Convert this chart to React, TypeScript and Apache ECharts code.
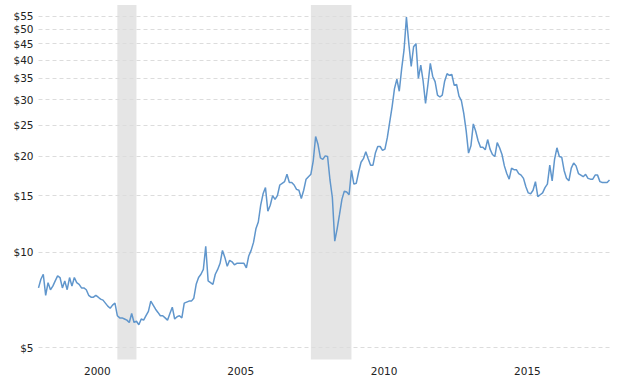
import React, { useEffect, useRef } from "react";
import * as echarts from "echarts";

// Monthly series starting June 1998
const startYear = 1998;
const startMonth = 6; // June

const prices: number[] = [
  7.7, 8.2, 8.5, 7.3, 8.0, 7.6, 7.8, 8.1, 8.4, 8.3, 7.7, 8.1,
  7.6, 8.3, 7.8, 8.3, 8.0, 7.9, 7.7, 7.7, 7.6, 7.3, 7.2, 7.2,
  7.3, 7.2, 7.1, 7.05, 6.9, 6.75, 6.65, 6.8, 6.9, 6.3, 6.2, 6.2,
  6.15, 6.1, 6.0, 6.4, 6.0, 6.05, 5.9, 6.15, 6.1, 6.3, 6.5, 7.0,
  6.8, 6.6, 6.45, 6.3, 6.3, 6.2, 6.1, 6.4, 6.7, 6.15, 6.25, 6.3,
  6.2, 6.9, 6.95, 7.0, 7.0, 7.15, 7.9, 8.3, 8.5, 8.8, 10.4, 8.1,
  8.0, 7.9, 8.5, 8.8, 9.2, 10.1, 9.6, 9.0, 9.4, 9.3, 9.1, 9.2,
  9.2, 9.2, 9.2, 8.9, 9.7, 10.1, 10.7, 11.8, 12.4, 14.0, 15.2, 15.9,
  13.4, 14.0, 15.0, 14.6, 15.0, 16.2, 16.4, 16.6, 17.5, 16.5, 16.5, 16.2,
  15.7, 15.6, 14.7, 15.6, 16.9, 17.2, 17.5, 19.3, 23.0, 21.7, 19.7, 19.5,
  20.0, 19.9, 16.8, 14.8, 10.8, 11.8, 13.1, 14.6, 15.5, 15.4, 15.1, 18.0,
  16.3, 16.4, 17.8, 19.1, 19.6, 20.6, 19.6, 18.7, 18.7, 20.4, 21.4, 21.4,
  20.8, 21.0, 22.8, 25.5, 28.5, 32.5, 34.8, 31.9, 37.5, 43.0, 54.5, 45.0,
  38.2, 44.0, 45.0, 35.0, 38.5, 34.3, 29.2, 33.5, 39.0, 35.5, 34.2, 31.0,
  30.6, 31.0, 34.3, 36.2, 35.8, 36.0, 33.3, 33.5, 30.8, 29.8, 27.2, 24.0,
  20.4, 21.5, 25.2, 23.9, 22.3, 21.3, 21.3, 20.9, 22.5, 21.0, 20.2, 19.9,
  22.0, 21.2, 20.2, 18.6, 17.6, 16.9, 18.3, 18.1, 18.1, 17.6, 17.4, 17.0,
  16.0, 15.3, 15.2, 15.6, 16.6, 14.9, 15.1, 15.3, 15.9, 16.3, 18.7, 16.7,
  19.5, 21.2, 19.9, 19.8, 18.0, 17.0, 16.7, 18.3, 19.0, 18.6, 17.6, 17.4,
  17.2, 17.5, 17.0, 16.9, 16.9, 17.4, 17.4, 16.6, 16.5, 16.5, 16.5, 16.8,
];

const yTickValues = [5, 10, 15, 20, 25, 30, 35, 40, 45, 50, 55];
const xTickYears = [2000, 2005, 2010, 2015];

// Recessions [start year, start month, end year, end month]
const recessions: [number, number, number, number][] = [
  [2001, 3, 2001, 11],
  [2007, 12, 2009, 5],
];

const toT = (y: number, m: number) => y + (m - 1) / 12;

export default function App() {
  const ref = useRef<HTMLDivElement>(null);

  useEffect(() => {
    if (!ref.current) return;
    const chart = echarts.init(ref.current, undefined, { renderer: "svg" });
    const t0 = toT(startYear, startMonth);
    const data = prices.map((v, i) => [t0 + i / 12, v]);
    const tEnd = t0 + (prices.length - 1) / 12;
    const font = "'DejaVu Sans', Verdana, sans-serif";

    chart.setOption({
      animation: false,
      backgroundColor: "#ffffff",
      grid: { left: 38.5, right: 30.5, top: 5, bottom: 19.5, containLabel: false },
      xAxis: {
        type: "value",
        min: t0,
        max: tEnd,
        axisLine: { show: false },
        axisTick: { show: false },
        splitLine: { show: false },
        axisLabel: {
          customValues: xTickYears.map((y) => y + 0.47),
          formatter: (v: number) => String(Math.floor(v)),
          color: "#222",
          fontSize: 10.5,
          fontFamily: font,
          margin: 6,
        },
      },
      yAxis: {
        type: "log",
        logBase: 10,
        min: 4.59,
        max: 59.5,
        axisLine: { show: false },
        axisTick: { show: false },
        axisLabel: { show: false },
        splitLine: { show: false },
      },
      series: [
        {
          type: "line",
          data,
          showSymbol: false,
          symbol: "none",
          z: 3,
          lineStyle: { color: "#6096cc", width: 1.5 },
          markArea: {
            silent: true,
            z: 0,
            itemStyle: { color: "#e5e5e5" },
            data: recessions.map(([y1, m1, y2, m2]) => [
              { xAxis: toT(y1, m1) },
              { xAxis: toT(y2, m2) },
            ]),
          },
          markLine: {
            silent: true,
            z: 1,
            symbol: ["none", "none"],
            lineStyle: { color: "#dcdcdc", type: [4, 3], width: 1 },
            label: {
              show: true,
              position: "start",
              distance: 5,
              color: "#222",
              fontSize: 10.5,
              fontFamily: font,
              formatter: (p: any) => "$" + p.value,
            },
            data: yTickValues.map((v) => ({ yAxis: v })),
          },
        },
      ],
    });
    return () => chart.dispose();
  }, []);

  return (
    <div
      ref={ref}
      style={{ position: "fixed", left: 0, top: 0, width: 640, height: 379 }}
    />
  );
}
